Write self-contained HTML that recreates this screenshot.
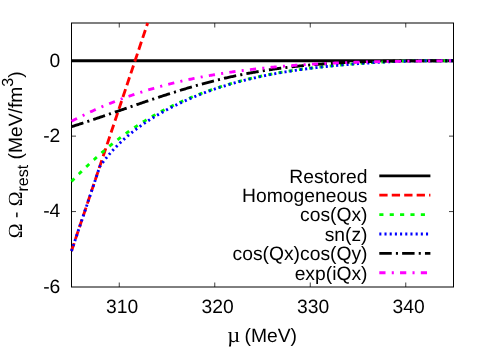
<!DOCTYPE html>
<html><head><meta charset="utf-8"><title>plot</title>
<style>
html,body{margin:0;padding:0;background:#fff;}
svg{display:block;will-change:transform;}
text{font-family:"Liberation Sans",sans-serif;font-size:19.3px;fill:#000;text-rendering:geometricPrecision;}
.sym{font-family:"Liberation Serif",serif;}
</style></head><body>
<svg width="498" height="349" viewBox="0 0 498 349">
<rect width="498" height="349" fill="#fff"/>
<defs><clipPath id="cp"><rect x="71.5" y="23.0" width="382.0" height="264.0"/></clipPath></defs>

<rect x="71.5" y="23.0" width="382.0" height="264.0" fill="none" stroke="#000" stroke-width="1"/>
<g fill="none" stroke="#000" stroke-width="0.75">
<path d="M119.25,287.0 V282.5 M119.25,23.0 V27.5"/>
<path d="M214.75,287.0 V282.5 M214.75,23.0 V27.5"/>
<path d="M310.25,287.0 V282.5 M310.25,23.0 V27.5"/>
<path d="M405.75,287.0 V282.5 M405.75,23.0 V27.5"/>
<path d="M71.5,60.71 H76.0 M453.5,60.71 H449.0"/>
<path d="M71.5,136.14 H76.0 M453.5,136.14 H449.0"/>
<path d="M71.5,211.57 H76.0 M453.5,211.57 H449.0"/>
</g>
<g fill="none" stroke-width="2.85">
<path d="M71.5,60.71 L453.5,60.71" stroke="#000"/>
<path d="M71.50,251.00 L147.67,23.00" stroke="#ff0000" stroke-dasharray="8.324 4.162"/>
<path d="M71.50,181.50 L72.46,180.52 L73.41,179.54 L74.37,178.56 L75.33,177.59 L76.29,176.62 L77.24,175.66 L78.20,174.71 L79.16,173.76 L80.12,172.81 L81.07,171.87 L82.03,170.93 L82.99,170.00 L83.95,169.07 L84.90,168.15 L85.86,167.23 L86.82,166.32 L87.78,165.41 L88.73,164.51 L89.69,163.62 L90.65,162.72 L91.61,161.84 L92.56,160.96 L93.52,160.08 L94.48,159.21 L95.43,158.34 L96.39,157.48 L97.35,156.62 L98.31,155.77 L99.26,154.93 L100.22,154.08 L101.18,153.25 L102.14,152.42 L103.09,151.59 L104.05,150.77 L105.01,149.96 L105.97,149.15 L106.92,148.35 L107.88,147.55 L108.84,146.75 L109.80,145.97 L110.75,145.18 L111.71,144.40 L112.67,143.63 L113.63,142.87 L114.58,142.10 L115.54,141.35 L116.50,140.60 L117.45,139.85 L118.41,139.11 L119.37,138.38 L120.33,137.65 L121.28,136.93 L122.24,136.21 L123.20,135.50 L124.16,134.79 L125.11,134.09 L126.07,133.39 L127.03,132.70 L127.99,132.02 L128.94,131.34 L129.90,130.67 L130.86,130.00 L131.82,129.34 L132.77,128.68 L133.73,128.03 L134.69,127.38 L135.65,126.74 L136.60,126.10 L137.56,125.47 L138.52,124.85 L139.47,124.23 L140.43,123.61 L141.39,123.00 L142.35,122.40 L143.30,121.80 L144.26,121.21 L145.22,120.62 L146.18,120.03 L147.13,119.45 L148.09,118.88 L149.05,118.30 L150.01,117.74 L150.96,117.18 L151.92,116.62 L152.88,116.07 L153.84,115.52 L154.79,114.98 L155.75,114.44 L156.71,113.91 L157.67,113.38 L158.62,112.86 L159.58,112.34 L160.54,111.82 L161.49,111.31 L162.45,110.80 L163.41,110.30 L164.37,109.80 L165.32,109.31 L166.28,108.82 L167.24,108.33 L168.20,107.85 L169.15,107.37 L170.11,106.90 L171.07,106.43 L172.03,105.96 L172.98,105.50 L173.94,105.04 L174.90,104.59 L175.86,104.14 L176.81,103.69 L177.77,103.25 L178.73,102.81 L179.69,102.37 L180.64,101.94 L181.60,101.51 L182.56,101.08 L183.52,100.66 L184.47,100.24 L185.43,99.83 L186.39,99.42 L187.34,99.01 L188.30,98.60 L189.26,98.20 L190.22,97.80 L191.17,97.41 L192.13,97.02 L193.09,96.63 L194.05,96.24 L195.00,95.86 L195.96,95.48 L196.92,95.10 L197.88,94.73 L198.83,94.36 L199.79,93.99 L200.75,93.63 L201.71,93.27 L202.66,92.91 L203.62,92.56 L204.58,92.20 L205.54,91.85 L206.49,91.51 L207.45,91.17 L208.41,90.82 L209.36,90.49 L210.32,90.15 L211.28,89.82 L212.24,89.49 L213.19,89.17 L214.15,88.84 L215.11,88.52 L216.07,88.20 L217.02,87.89 L217.98,87.58 L218.94,87.27 L219.90,86.96 L220.85,86.66 L221.81,86.36 L222.77,86.06 L223.73,85.76 L224.68,85.47 L225.64,85.18 L226.60,84.89 L227.56,84.61 L228.51,84.32 L229.47,84.04 L230.43,83.77 L231.38,83.49 L232.34,83.22 L233.30,82.95 L234.26,82.68 L235.21,82.42 L236.17,82.15 L237.13,81.90 L238.09,81.64 L239.04,81.38 L240.00,81.13 L240.96,80.88 L241.92,80.63 L242.87,80.39 L243.83,80.14 L244.79,79.90 L245.75,79.66 L246.70,79.43 L247.66,79.20 L248.62,78.96 L249.58,78.73 L250.53,78.51 L251.49,78.28 L252.45,78.06 L253.40,77.84 L254.36,77.62 L255.32,77.41 L256.28,77.19 L257.23,76.98 L258.19,76.77 L259.15,76.57 L260.11,76.36 L261.06,76.16 L262.02,75.96 L262.98,75.76 L263.94,75.56 L264.89,75.37 L265.85,75.17 L266.81,74.98 L267.77,74.79 L268.72,74.61 L269.68,74.42 L270.64,74.24 L271.60,74.06 L272.55,73.88 L273.51,73.70 L274.47,73.53 L275.42,73.35 L276.38,73.18 L277.34,73.01 L278.30,72.85 L279.25,72.68 L280.21,72.51 L281.17,72.35 L282.13,72.19 L283.08,72.03 L284.04,71.88 L285.00,71.72 L285.96,71.57 L286.91,71.41 L287.87,71.26 L288.83,71.11 L289.79,70.97 L290.74,70.82 L291.70,70.68 L292.66,70.53 L293.62,70.39 L294.57,70.25 L295.53,70.11 L296.49,69.98 L297.44,69.84 L298.40,69.71 L299.36,69.58 L300.32,69.44 L301.27,69.32 L302.23,69.19 L303.19,69.06 L304.15,68.94 L305.10,68.81 L306.06,68.69 L307.02,68.57 L307.98,68.45 L308.93,68.33 L309.89,68.21 L310.85,68.09 L311.81,67.98 L312.76,67.87 L313.72,67.75 L314.68,67.64 L315.64,67.53 L316.59,67.42 L317.55,67.31 L318.51,67.21 L319.46,67.10 L320.42,67.00 L321.38,66.89 L322.34,66.79 L323.29,66.69 L324.25,66.59 L325.21,66.49 L326.17,66.39 L327.12,66.29 L328.08,66.20 L329.04,66.10 L330.00,66.01 L330.95,65.91 L331.91,65.82 L332.87,65.73 L333.83,65.64 L334.78,65.54 L335.74,65.46 L336.70,65.37 L337.66,65.28 L338.61,65.19 L339.57,65.10 L340.53,65.02 L341.48,64.93 L342.44,64.85 L343.40,64.77 L344.36,64.68 L345.31,64.60 L346.27,64.52 L347.23,64.44 L348.19,64.36 L349.14,64.28 L350.10,64.20 L351.06,64.13 L352.02,64.05 L352.97,63.98 L353.93,63.90 L354.89,63.83 L355.85,63.75 L356.80,63.68 L357.76,63.61 L358.72,63.54 L359.68,63.47 L360.63,63.40 L361.59,63.33 L362.55,63.26 L363.51,63.20 L364.46,63.13 L365.42,63.07 L366.38,63.00 L367.33,62.94 L368.29,62.88 L369.25,62.81 L370.21,62.75 L371.16,62.69 L372.12,62.63 L373.08,62.58 L374.04,62.52 L374.99,62.46 L375.95,62.40 L376.91,62.35 L377.87,62.29 L378.82,62.24 L379.78,62.19 L380.74,62.14 L381.70,62.08 L382.65,62.03 L383.61,61.98 L384.57,61.94 L385.53,61.89 L386.48,61.84 L387.44,61.79 L388.40,61.75 L389.35,61.70 L390.31,61.66 L391.27,61.62 L392.23,61.58 L393.18,61.53 L394.14,61.49 L395.10,61.45 L396.06,61.42 L397.01,61.38 L397.97,61.34 L398.93,61.30 L399.89,61.27 L400.84,61.23 L401.80,61.20 L402.76,61.17 L403.72,61.14 L404.67,61.10 L405.63,61.07 L406.59,61.05 L407.55,61.02 L408.50,60.99 L409.46,60.96 L410.42,60.94 L411.37,60.91 L412.33,60.89 L413.29,60.86 L414.25,60.84 L415.20,60.82 L416.16,60.80 L417.12,60.78 L418.08,60.76 L419.03,60.74 L419.99,60.72 L420.95,60.71 L421.91,60.71 L422.86,60.71 L423.82,60.71 L424.78,60.71 L425.74,60.71 L426.69,60.71 L427.65,60.71 L428.61,60.71 L429.57,60.71 L430.52,60.71 L431.48,60.71 L432.44,60.71 L433.39,60.71 L434.35,60.71 L435.31,60.71 L436.27,60.71 L437.22,60.71 L438.18,60.71 L439.14,60.71 L440.10,60.71 L441.05,60.71 L442.01,60.71 L442.97,60.71 L443.93,60.71 L444.88,60.71 L445.84,60.71 L446.80,60.71 L447.76,60.71 L448.71,60.71 L449.67,60.71 L450.63,60.71 L451.59,60.71 L452.54,60.71 L453.50,60.71" stroke="#00ff00" stroke-dasharray="4.143 6.214"/>
<path d="M71.50,251.00 L99.90,166.30 L100.79,165.07 L101.67,163.87 L102.56,162.68 L103.44,161.52 L104.33,160.37 L105.22,159.25 L106.10,158.14 L106.99,157.05 L107.88,155.98 L108.76,154.92 L109.65,153.89 L110.53,152.87 L111.42,151.86 L112.31,150.88 L113.19,149.91 L114.08,148.95 L114.97,148.01 L115.85,147.09 L116.74,146.18 L117.62,145.28 L118.51,144.40 L119.40,143.53 L120.28,142.68 L121.17,141.83 L122.06,141.00 L122.94,140.19 L123.83,139.38 L124.71,138.59 L125.60,137.80 L126.49,137.03 L127.37,136.27 L128.26,135.52 L129.15,134.78 L130.03,134.04 L130.92,133.32 L131.80,132.61 L132.69,131.90 L133.58,131.20 L134.46,130.51 L135.35,129.83 L136.23,129.16 L137.12,128.49 L138.01,127.83 L138.89,127.18 L139.78,126.54 L140.67,125.90 L141.55,125.27 L142.44,124.65 L143.32,124.03 L144.21,123.43 L145.10,122.82 L145.98,122.23 L146.87,121.64 L147.76,121.06 L148.64,120.48 L149.53,119.91 L150.41,119.34 L151.30,118.79 L152.19,118.23 L153.07,117.68 L153.96,117.14 L154.85,116.61 L155.73,116.07 L156.62,115.55 L157.50,115.03 L158.39,114.51 L159.28,114.00 L160.16,113.49 L161.05,112.99 L161.94,112.49 L162.82,112.00 L163.71,111.51 L164.59,111.03 L165.48,110.54 L166.37,110.07 L167.25,109.59 L168.14,109.12 L169.02,108.66 L169.91,108.20 L170.80,107.74 L171.68,107.28 L172.57,106.83 L173.46,106.38 L174.34,105.94 L175.23,105.49 L176.11,105.06 L177.00,104.62 L177.89,104.19 L178.77,103.76 L179.66,103.34 L180.55,102.92 L181.43,102.50 L182.32,102.09 L183.20,101.68 L184.09,101.27 L184.98,100.87 L185.86,100.46 L186.75,100.07 L187.64,99.67 L188.52,99.28 L189.41,98.89 L190.29,98.51 L191.18,98.13 L192.07,97.75 L192.95,97.37 L193.84,97.00 L194.73,96.63 L195.61,96.27 L196.50,95.90 L197.38,95.54 L198.27,95.19 L199.16,94.83 L200.04,94.48 L200.93,94.13 L201.81,93.79 L202.70,93.45 L203.59,93.11 L204.47,92.77 L205.36,92.44 L206.25,92.11 L207.13,91.78 L208.02,91.45 L208.90,91.13 L209.79,90.81 L210.68,90.50 L211.56,90.18 L212.45,89.87 L213.34,89.56 L214.22,89.26 L215.11,88.95 L215.99,88.65 L216.88,88.36 L217.77,88.06 L218.65,87.77 L219.54,87.48 L220.43,87.19 L221.31,86.91 L222.20,86.62 L223.08,86.34 L223.97,86.07 L224.86,85.79 L225.74,85.52 L226.63,85.25 L227.52,84.98 L228.40,84.71 L229.29,84.45 L230.17,84.19 L231.06,83.93 L231.95,83.68 L232.83,83.42 L233.72,83.17 L234.60,82.92 L235.49,82.68 L236.38,82.43 L237.26,82.19 L238.15,81.95 L239.04,81.71 L239.92,81.48 L240.81,81.24 L241.69,81.01 L242.58,80.78 L243.47,80.55 L244.35,80.33 L245.24,80.10 L246.13,79.88 L247.01,79.66 L247.90,79.45 L248.78,79.23 L249.67,79.02 L250.56,78.81 L251.44,78.60 L252.33,78.39 L253.22,78.18 L254.10,77.98 L254.99,77.78 L255.87,77.58 L256.76,77.38 L257.65,77.18 L258.53,76.99 L259.42,76.80 L260.31,76.61 L261.19,76.42 L262.08,76.23 L262.96,76.05 L263.85,75.86 L264.74,75.68 L265.62,75.50 L266.51,75.32 L267.39,75.15 L268.28,74.97 L269.17,74.80 L270.05,74.63 L270.94,74.46 L271.83,74.29 L272.71,74.12 L273.60,73.96 L274.48,73.79 L275.37,73.63 L276.26,73.47 L277.14,73.31 L278.03,73.15 L278.92,73.00 L279.80,72.84 L280.69,72.69 L281.57,72.54 L282.46,72.39 L283.35,72.24 L284.23,72.09 L285.12,71.95 L286.01,71.80 L286.89,71.66 L287.78,71.52 L288.66,71.38 L289.55,71.24 L290.44,71.11 L291.32,70.97 L292.21,70.84 L293.09,70.70 L293.98,70.57 L294.87,70.44 L295.75,70.31 L296.64,70.18 L297.53,70.06 L298.41,69.93 L299.30,69.81 L300.18,69.68 L301.07,69.56 L301.96,69.44 L302.84,69.32 L303.73,69.20 L304.62,69.08 L305.50,68.97 L306.39,68.85 L307.27,68.74 L308.16,68.63 L309.05,68.52 L309.93,68.40 L310.82,68.29 L311.71,68.19 L312.59,68.08 L313.48,67.97 L314.36,67.87 L315.25,67.76 L316.14,67.66 L317.02,67.55 L317.91,67.45 L318.80,67.35 L319.68,67.25 L320.57,67.15 L321.45,67.05 L322.34,66.96 L323.23,66.86 L324.11,66.76 L325.00,66.67 L325.88,66.58 L326.77,66.48 L327.66,66.39 L328.54,66.30 L329.43,66.21 L330.32,66.12 L331.20,66.03 L332.09,65.94 L332.97,65.85 L333.86,65.76 L334.75,65.68 L335.63,65.59 L336.52,65.51 L337.41,65.42 L338.29,65.34 L339.18,65.26 L340.06,65.18 L340.95,65.10 L341.84,65.02 L342.72,64.94 L343.61,64.86 L344.50,64.78 L345.38,64.70 L346.27,64.63 L347.15,64.55 L348.04,64.48 L348.93,64.40 L349.81,64.33 L350.70,64.26 L351.59,64.19 L352.47,64.11 L353.36,64.04 L354.24,63.97 L355.13,63.91 L356.02,63.84 L356.90,63.77 L357.79,63.70 L358.67,63.64 L359.56,63.57 L360.45,63.51 L361.33,63.45 L362.22,63.38 L363.11,63.32 L363.99,63.26 L364.88,63.20 L365.76,63.14 L366.65,63.08 L367.54,63.02 L368.42,62.97 L369.31,62.91 L370.20,62.85 L371.08,62.80 L371.97,62.74 L372.85,62.69 L373.74,62.64 L374.63,62.58 L375.51,62.53 L376.40,62.48 L377.29,62.43 L378.17,62.38 L379.06,62.33 L379.94,62.28 L380.83,62.24 L381.72,62.19 L382.60,62.14 L383.49,62.10 L384.38,62.06 L385.26,62.01 L386.15,61.97 L387.03,61.93 L387.92,61.88 L388.81,61.84 L389.69,61.80 L390.58,61.76 L391.46,61.73 L392.35,61.69 L393.24,61.65 L394.12,61.61 L395.01,61.58 L395.90,61.54 L396.78,61.51 L397.67,61.47 L398.55,61.44 L399.44,61.41 L400.33,61.38 L401.21,61.35 L402.10,61.32 L402.99,61.29 L403.87,61.26 L404.76,61.23 L405.64,61.20 L406.53,61.17 L407.42,61.15 L408.30,61.12 L409.19,61.10 L410.08,61.07 L410.96,61.05 L411.85,61.03 L412.73,61.01 L413.62,60.99 L414.51,60.96 L415.39,60.94 L416.28,60.93 L417.17,60.91 L418.05,60.89 L418.94,60.87 L419.82,60.86 L420.71,60.84 L421.60,60.82 L422.48,60.81 L423.37,60.80 L424.25,60.78 L425.14,60.77 L426.03,60.76 L426.91,60.75 L427.80,60.74 L428.69,60.73 L429.57,60.72 L430.46,60.71 L431.34,60.71 L432.23,60.71 L433.12,60.71 L434.00,60.71 L434.89,60.71 L435.78,60.71 L436.66,60.71 L437.55,60.71 L438.43,60.71 L439.32,60.71 L440.21,60.71 L441.09,60.71 L441.98,60.71 L442.87,60.71 L443.75,60.71 L444.64,60.71 L445.52,60.71 L446.41,60.71 L447.30,60.71 L448.18,60.71 L449.07,60.71 L449.96,60.71 L450.84,60.71 L451.73,60.71 L452.61,60.71 L453.50,60.72" stroke="#0000ff" stroke-dasharray="2.082 3.123"/>
<path d="M71.50,126.70 L72.46,126.40 L73.41,126.09 L74.37,125.79 L75.33,125.48 L76.29,125.17 L77.24,124.86 L78.20,124.55 L79.16,124.24 L80.12,123.93 L81.07,123.62 L82.03,123.30 L82.99,122.99 L83.95,122.67 L84.90,122.36 L85.86,122.04 L86.82,121.72 L87.78,121.41 L88.73,121.09 L89.69,120.77 L90.65,120.45 L91.61,120.13 L92.56,119.81 L93.52,119.48 L94.48,119.16 L95.43,118.84 L96.39,118.52 L97.35,118.19 L98.31,117.87 L99.26,117.54 L100.22,117.22 L101.18,116.89 L102.14,116.57 L103.09,116.24 L104.05,115.91 L105.01,115.58 L105.97,115.26 L106.92,114.93 L107.88,114.60 L108.84,114.27 L109.80,113.94 L110.75,113.62 L111.71,113.29 L112.67,112.96 L113.63,112.63 L114.58,112.30 L115.54,111.97 L116.50,111.64 L117.45,111.31 L118.41,110.98 L119.37,110.65 L120.33,110.32 L121.28,109.99 L122.24,109.66 L123.20,109.33 L124.16,109.00 L125.11,108.67 L126.07,108.33 L127.03,108.00 L127.99,107.67 L128.94,107.34 L129.90,107.02 L130.86,106.69 L131.82,106.36 L132.77,106.03 L133.73,105.70 L134.69,105.37 L135.65,105.04 L136.60,104.71 L137.56,104.38 L138.52,104.06 L139.47,103.73 L140.43,103.40 L141.39,103.08 L142.35,102.75 L143.30,102.42 L144.26,102.10 L145.22,101.77 L146.18,101.45 L147.13,101.13 L148.09,100.80 L149.05,100.48 L150.01,100.16 L150.96,99.83 L151.92,99.51 L152.88,99.19 L153.84,98.87 L154.79,98.55 L155.75,98.23 L156.71,97.92 L157.67,97.60 L158.62,97.28 L159.58,96.97 L160.54,96.65 L161.49,96.34 L162.45,96.02 L163.41,95.71 L164.37,95.40 L165.32,95.09 L166.28,94.78 L167.24,94.47 L168.20,94.16 L169.15,93.85 L170.11,93.54 L171.07,93.24 L172.03,92.93 L172.98,92.63 L173.94,92.33 L174.90,92.03 L175.86,91.72 L176.81,91.43 L177.77,91.13 L178.73,90.83 L179.69,90.53 L180.64,90.24 L181.60,89.94 L182.56,89.65 L183.52,89.36 L184.47,89.07 L185.43,88.78 L186.39,88.49 L187.34,88.21 L188.30,87.92 L189.26,87.64 L190.22,87.35 L191.17,87.07 L192.13,86.79 L193.09,86.51 L194.05,86.24 L195.00,85.96 L195.96,85.69 L196.92,85.41 L197.88,85.14 L198.83,84.87 L199.79,84.61 L200.75,84.34 L201.71,84.07 L202.66,83.81 L203.62,83.55 L204.58,83.29 L205.54,83.03 L206.49,82.77 L207.45,82.52 L208.41,82.26 L209.36,82.01 L210.32,81.76 L211.28,81.51 L212.24,81.27 L213.19,81.02 L214.15,80.78 L215.11,80.54 L216.07,80.30 L217.02,80.06 L217.98,79.83 L218.94,79.59 L219.90,79.36 L220.85,79.13 L221.81,78.90 L222.77,78.68 L223.73,78.45 L224.68,78.23 L225.64,78.01 L226.60,77.79 L227.56,77.57 L228.51,77.36 L229.47,77.15 L230.43,76.94 L231.38,76.73 L232.34,76.52 L233.30,76.31 L234.26,76.11 L235.21,75.91 L236.17,75.71 L237.13,75.51 L238.09,75.31 L239.04,75.12 L240.00,74.92 L240.96,74.73 L241.92,74.54 L242.87,74.35 L243.83,74.17 L244.79,73.98 L245.75,73.80 L246.70,73.62 L247.66,73.44 L248.62,73.26 L249.58,73.08 L250.53,72.91 L251.49,72.74 L252.45,72.56 L253.40,72.40 L254.36,72.23 L255.32,72.06 L256.28,71.90 L257.23,71.73 L258.19,71.57 L259.15,71.41 L260.11,71.25 L261.06,71.10 L262.02,70.94 L262.98,70.79 L263.94,70.64 L264.89,70.48 L265.85,70.34 L266.81,70.19 L267.77,70.04 L268.72,69.90 L269.68,69.75 L270.64,69.61 L271.60,69.47 L272.55,69.33 L273.51,69.20 L274.47,69.06 L275.42,68.93 L276.38,68.80 L277.34,68.66 L278.30,68.53 L279.25,68.41 L280.21,68.28 L281.17,68.15 L282.13,68.03 L283.08,67.91 L284.04,67.79 L285.00,67.67 L285.96,67.55 L286.91,67.43 L287.87,67.31 L288.83,67.20 L289.79,67.09 L290.74,66.97 L291.70,66.86 L292.66,66.75 L293.62,66.65 L294.57,66.54 L295.53,66.43 L296.49,66.33 L297.44,66.23 L298.40,66.13 L299.36,66.03 L300.32,65.93 L301.27,65.83 L302.23,65.73 L303.19,65.64 L304.15,65.54 L305.10,65.45 L306.06,65.36 L307.02,65.27 L307.98,65.18 L308.93,65.09 L309.89,65.00 L310.85,64.92 L311.81,64.83 L312.76,64.75 L313.72,64.67 L314.68,64.59 L315.64,64.51 L316.59,64.43 L317.55,64.35 L318.51,64.27 L319.46,64.20 L320.42,64.12 L321.38,64.05 L322.34,63.98 L323.29,63.91 L324.25,63.84 L325.21,63.77 L326.17,63.70 L327.12,63.63 L328.08,63.57 L329.04,63.50 L330.00,63.44 L330.95,63.37 L331.91,63.31 L332.87,63.25 L333.83,63.19 L334.78,63.13 L335.74,63.07 L336.70,63.01 L337.66,62.96 L338.61,62.90 L339.57,62.85 L340.53,62.80 L341.48,62.74 L342.44,62.69 L343.40,62.64 L344.36,62.59 L345.31,62.54 L346.27,62.49 L347.23,62.45 L348.19,62.40 L349.14,62.35 L350.10,62.31 L351.06,62.26 L352.02,62.22 L352.97,62.18 L353.93,62.14 L354.89,62.10 L355.85,62.06 L356.80,62.02 L357.76,61.98 L358.72,61.94 L359.68,61.91 L360.63,61.87 L361.59,61.83 L362.55,61.80 L363.51,61.77 L364.46,61.73 L365.42,61.70 L366.38,61.67 L367.33,61.64 L368.29,61.61 L369.25,61.58 L370.21,61.55 L371.16,61.52 L372.12,61.49 L373.08,61.47 L374.04,61.44 L374.99,61.41 L375.95,61.39 L376.91,61.36 L377.87,61.34 L378.82,61.32 L379.78,61.29 L380.74,61.27 L381.70,61.25 L382.65,61.23 L383.61,61.21 L384.57,61.19 L385.53,61.17 L386.48,61.15 L387.44,61.13 L388.40,61.12 L389.35,61.10 L390.31,61.08 L391.27,61.07 L392.23,61.05 L393.18,61.04 L394.14,61.02 L395.10,61.01 L396.06,60.99 L397.01,60.98 L397.97,60.97 L398.93,60.95 L399.89,60.94 L400.84,60.93 L401.80,60.92 L402.76,60.91 L403.72,60.90 L404.67,60.89 L405.63,60.88 L406.59,60.87 L407.55,60.86 L408.50,60.85 L409.46,60.85 L410.42,60.84 L411.37,60.83 L412.33,60.82 L413.29,60.82 L414.25,60.81 L415.20,60.80 L416.16,60.80 L417.12,60.79 L418.08,60.79 L419.03,60.78 L419.99,60.78 L420.95,60.77 L421.91,60.77 L422.86,60.76 L423.82,60.76 L424.78,60.76 L425.74,60.75 L426.69,60.75 L427.65,60.75 L428.61,60.74 L429.57,60.74 L430.52,60.74 L431.48,60.74 L432.44,60.74 L433.39,60.73 L434.35,60.73 L435.31,60.73 L436.27,60.73 L437.22,60.73 L438.18,60.73 L439.14,60.72 L440.10,60.72 L441.05,60.72 L442.01,60.72 L442.97,60.72 L443.93,60.72 L444.88,60.72 L445.84,60.72 L446.80,60.72 L447.76,60.72 L448.71,60.72 L449.67,60.72 L450.63,60.72 L451.59,60.72 L452.54,60.72 L453.50,60.71" stroke="#000" stroke-dasharray="12.470 4.157 2.078 4.157"/>
<path d="M71.50,121.30 L72.46,120.80 L73.41,120.30 L74.37,119.80 L75.33,119.30 L76.29,118.81 L77.24,118.33 L78.20,117.84 L79.16,117.36 L80.12,116.88 L81.07,116.40 L82.03,115.93 L82.99,115.46 L83.95,114.99 L84.90,114.53 L85.86,114.07 L86.82,113.61 L87.78,113.16 L88.73,112.71 L89.69,112.26 L90.65,111.81 L91.61,111.37 L92.56,110.93 L93.52,110.49 L94.48,110.06 L95.43,109.63 L96.39,109.20 L97.35,108.77 L98.31,108.35 L99.26,107.93 L100.22,107.51 L101.18,107.10 L102.14,106.68 L103.09,106.28 L104.05,105.87 L105.01,105.47 L105.97,105.07 L106.92,104.67 L107.88,104.27 L108.84,103.88 L109.80,103.49 L110.75,103.10 L111.71,102.72 L112.67,102.34 L113.63,101.96 L114.58,101.58 L115.54,101.21 L116.50,100.84 L117.45,100.47 L118.41,100.10 L119.37,99.74 L120.33,99.38 L121.28,99.02 L122.24,98.67 L123.20,98.31 L124.16,97.96 L125.11,97.62 L126.07,97.27 L127.03,96.93 L127.99,96.59 L128.94,96.25 L129.90,95.91 L130.86,95.58 L131.82,95.25 L132.77,94.92 L133.73,94.60 L134.69,94.27 L135.65,93.95 L136.60,93.64 L137.56,93.32 L138.52,93.01 L139.47,92.69 L140.43,92.39 L141.39,92.08 L142.35,91.77 L143.30,91.47 L144.26,91.17 L145.22,90.88 L146.18,90.58 L147.13,90.29 L148.09,90.00 L149.05,89.71 L150.01,89.42 L150.96,89.14 L151.92,88.86 L152.88,88.58 L153.84,88.30 L154.79,88.02 L155.75,87.75 L156.71,87.48 L157.67,87.21 L158.62,86.95 L159.58,86.68 L160.54,86.42 L161.49,86.16 L162.45,85.90 L163.41,85.64 L164.37,85.39 L165.32,85.14 L166.28,84.89 L167.24,84.64 L168.20,84.39 L169.15,84.15 L170.11,83.91 L171.07,83.67 L172.03,83.43 L172.98,83.19 L173.94,82.96 L174.90,82.73 L175.86,82.50 L176.81,82.27 L177.77,82.04 L178.73,81.82 L179.69,81.60 L180.64,81.38 L181.60,81.16 L182.56,80.94 L183.52,80.72 L184.47,80.51 L185.43,80.30 L186.39,80.09 L187.34,79.88 L188.30,79.68 L189.26,79.47 L190.22,79.27 L191.17,79.07 L192.13,78.87 L193.09,78.67 L194.05,78.47 L195.00,78.28 L195.96,78.09 L196.92,77.90 L197.88,77.71 L198.83,77.52 L199.79,77.34 L200.75,77.15 L201.71,76.97 L202.66,76.79 L203.62,76.61 L204.58,76.43 L205.54,76.26 L206.49,76.08 L207.45,75.91 L208.41,75.74 L209.36,75.57 L210.32,75.40 L211.28,75.23 L212.24,75.07 L213.19,74.90 L214.15,74.74 L215.11,74.58 L216.07,74.42 L217.02,74.26 L217.98,74.10 L218.94,73.95 L219.90,73.79 L220.85,73.64 L221.81,73.49 L222.77,73.34 L223.73,73.19 L224.68,73.05 L225.64,72.90 L226.60,72.76 L227.56,72.61 L228.51,72.47 L229.47,72.33 L230.43,72.19 L231.38,72.05 L232.34,71.92 L233.30,71.78 L234.26,71.65 L235.21,71.51 L236.17,71.38 L237.13,71.25 L238.09,71.12 L239.04,70.99 L240.00,70.87 L240.96,70.74 L241.92,70.62 L242.87,70.49 L243.83,70.37 L244.79,70.25 L245.75,70.13 L246.70,70.01 L247.66,69.89 L248.62,69.77 L249.58,69.66 L250.53,69.54 L251.49,69.43 L252.45,69.32 L253.40,69.21 L254.36,69.10 L255.32,68.99 L256.28,68.88 L257.23,68.77 L258.19,68.66 L259.15,68.56 L260.11,68.45 L261.06,68.35 L262.02,68.25 L262.98,68.15 L263.94,68.05 L264.89,67.95 L265.85,67.85 L266.81,67.75 L267.77,67.66 L268.72,67.56 L269.68,67.47 L270.64,67.37 L271.60,67.28 L272.55,67.19 L273.51,67.10 L274.47,67.01 L275.42,66.92 L276.38,66.83 L277.34,66.75 L278.30,66.66 L279.25,66.58 L280.21,66.49 L281.17,66.41 L282.13,66.33 L283.08,66.25 L284.04,66.17 L285.00,66.09 L285.96,66.01 L286.91,65.93 L287.87,65.85 L288.83,65.78 L289.79,65.70 L290.74,65.63 L291.70,65.55 L292.66,65.48 L293.62,65.41 L294.57,65.34 L295.53,65.27 L296.49,65.20 L297.44,65.13 L298.40,65.06 L299.36,65.00 L300.32,64.93 L301.27,64.86 L302.23,64.80 L303.19,64.74 L304.15,64.67 L305.10,64.61 L306.06,64.55 L307.02,64.49 L307.98,64.43 L308.93,64.37 L309.89,64.31 L310.85,64.25 L311.81,64.20 L312.76,64.14 L313.72,64.08 L314.68,64.03 L315.64,63.98 L316.59,63.92 L317.55,63.87 L318.51,63.82 L319.46,63.77 L320.42,63.71 L321.38,63.66 L322.34,63.62 L323.29,63.57 L324.25,63.52 L325.21,63.47 L326.17,63.42 L327.12,63.38 L328.08,63.33 L329.04,63.29 L330.00,63.24 L330.95,63.20 L331.91,63.16 L332.87,63.11 L333.83,63.07 L334.78,63.03 L335.74,62.99 L336.70,62.95 L337.66,62.91 L338.61,62.87 L339.57,62.83 L340.53,62.80 L341.48,62.76 L342.44,62.72 L343.40,62.69 L344.36,62.65 L345.31,62.61 L346.27,62.58 L347.23,62.55 L348.19,62.51 L349.14,62.48 L350.10,62.45 L351.06,62.42 L352.02,62.38 L352.97,62.35 L353.93,62.32 L354.89,62.29 L355.85,62.26 L356.80,62.23 L357.76,62.20 L358.72,62.18 L359.68,62.15 L360.63,62.12 L361.59,62.09 L362.55,62.07 L363.51,62.04 L364.46,62.02 L365.42,61.99 L366.38,61.97 L367.33,61.94 L368.29,61.92 L369.25,61.89 L370.21,61.87 L371.16,61.85 L372.12,61.83 L373.08,61.80 L374.04,61.78 L374.99,61.76 L375.95,61.74 L376.91,61.72 L377.87,61.70 L378.82,61.68 L379.78,61.66 L380.74,61.64 L381.70,61.62 L382.65,61.60 L383.61,61.58 L384.57,61.57 L385.53,61.55 L386.48,61.53 L387.44,61.51 L388.40,61.50 L389.35,61.48 L390.31,61.46 L391.27,61.45 L392.23,61.43 L393.18,61.42 L394.14,61.40 L395.10,61.39 L396.06,61.37 L397.01,61.36 L397.97,61.34 L398.93,61.33 L399.89,61.32 L400.84,61.30 L401.80,61.29 L402.76,61.28 L403.72,61.26 L404.67,61.25 L405.63,61.24 L406.59,61.22 L407.55,61.21 L408.50,61.20 L409.46,61.19 L410.42,61.18 L411.37,61.16 L412.33,61.15 L413.29,61.14 L414.25,61.13 L415.20,61.12 L416.16,61.11 L417.12,61.10 L418.08,61.09 L419.03,61.07 L419.99,61.06 L420.95,61.05 L421.91,61.04 L422.86,61.03 L423.82,61.02 L424.78,61.01 L425.74,61.00 L426.69,60.99 L427.65,60.98 L428.61,60.97 L429.57,60.96 L430.52,60.95 L431.48,60.94 L432.44,60.93 L433.39,60.92 L434.35,60.91 L435.31,60.90 L436.27,60.89 L437.22,60.88 L438.18,60.87 L439.14,60.86 L440.10,60.85 L441.05,60.84 L442.01,60.83 L442.97,60.83 L443.93,60.82 L444.88,60.81 L445.84,60.80 L446.80,60.79 L447.76,60.78 L448.71,60.76 L449.67,60.75 L450.63,60.74 L451.59,60.73 L452.54,60.72 L453.50,60.71" stroke="#ff00ff" stroke-dasharray="6.228 6.228 2.076 6.228"/>
</g>
<text x="122.05" y="313.0" text-anchor="middle">310</text>
<text x="217.55" y="313.0" text-anchor="middle">320</text>
<text x="313.05" y="313.0" text-anchor="middle">330</text>
<text x="408.55" y="313.0" text-anchor="middle">340</text>
<text x="60.3" y="66.51" text-anchor="end">0</text>
<text x="60.3" y="141.94" text-anchor="end">-2</text>
<text x="60.3" y="217.37" text-anchor="end">-4</text>
<text x="60.3" y="292.80" text-anchor="end">-6</text>
<text class="sym" transform="translate(233.6,342.1) scale(1.165,1.12)" x="0" y="0" text-anchor="middle">µ</text>
<text x="296.98" y="342.1" text-anchor="end">(MeV)</text>
<text transform="translate(21.8,238.3) rotate(-90)" text-anchor="start"><tspan class="sym" font-size="19.95">Ω</tspan> - <tspan class="sym" font-size="19.95">Ω</tspan><tspan font-size="16.0" dy="6.4">rest</tspan><tspan dy="-6.4"> (MeV/fm</tspan><tspan font-size="16.0" dy="-9.3">3</tspan><tspan dy="9.3">)</tspan></text>
<text x="367.5" y="182.70" text-anchor="end">Restored</text>
<path d="M379.3,175.80 H430.4" stroke="#000" stroke-width="2.85" fill="none"/>
<text x="367.5" y="202.09" text-anchor="end">Homogeneous</text>
<path d="M379.3,195.19 H430.4" stroke="#ff0000" stroke-width="2.85" fill="none" stroke-dasharray="8.300 4.150"/>
<text x="367.5" y="221.48" text-anchor="end">cos(Qx)</text>
<path d="M379.3,214.58 H430.4" stroke="#00ff00" stroke-width="2.85" fill="none" stroke-dasharray="4.150 6.225"/>
<text x="367.5" y="240.87" text-anchor="end">sn(z)</text>
<path d="M379.3,233.97 H430.4" stroke="#0000ff" stroke-width="2.85" fill="none" stroke-dasharray="2.075 3.113"/>
<text x="367.5" y="260.26" text-anchor="end">cos(Qx)cos(Qy)</text>
<path d="M379.3,253.36 H430.4" stroke="#000" stroke-width="2.85" fill="none" stroke-dasharray="12.450 4.150 2.075 4.150"/>
<text x="367.5" y="279.65" text-anchor="end">exp(iQx)</text>
<path d="M379.3,272.75 H430.4" stroke="#ff00ff" stroke-width="2.85" fill="none" stroke-dasharray="6.225 6.225 2.075 6.225"/>
</svg></body></html>
